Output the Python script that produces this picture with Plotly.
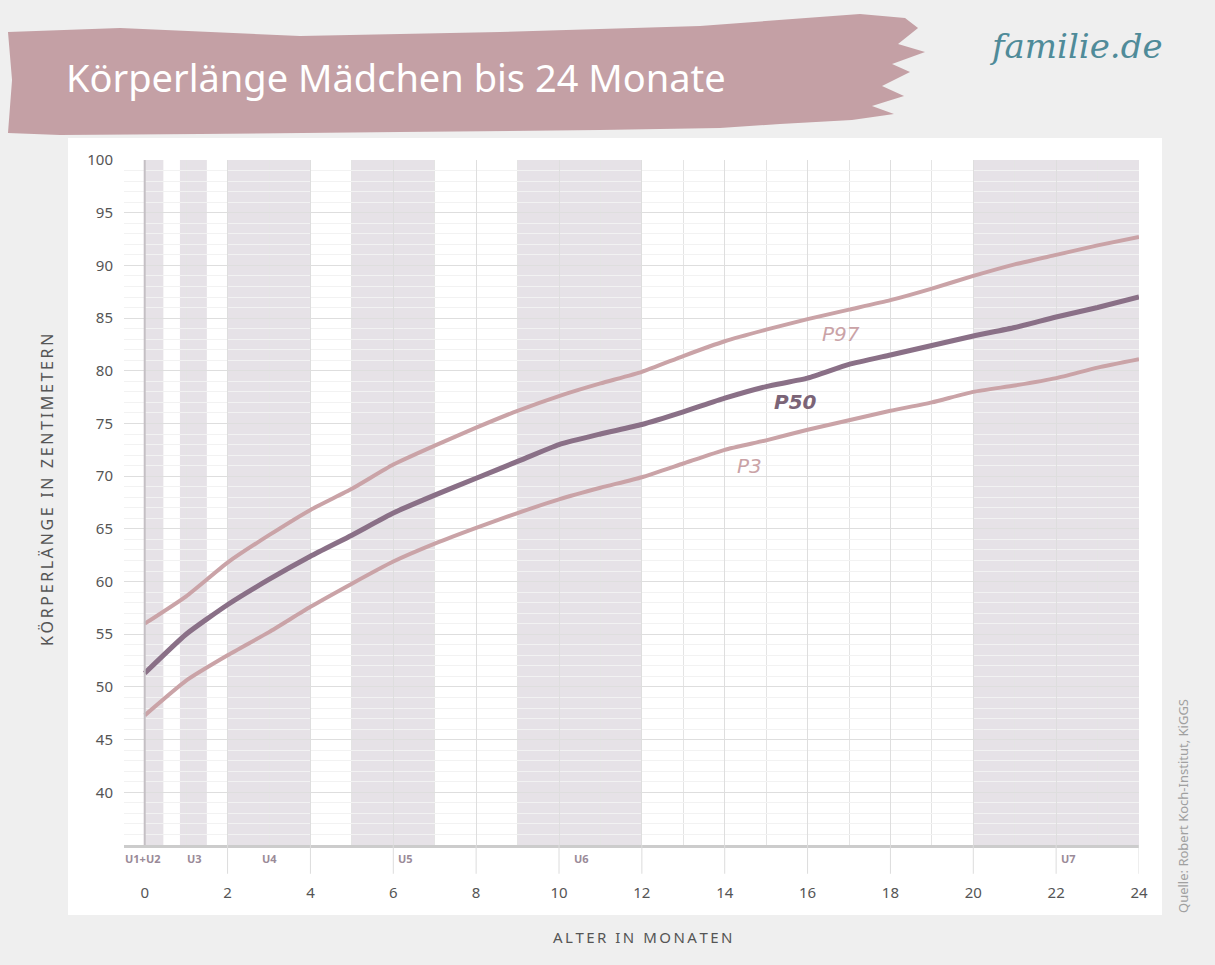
import plotly.graph_objects as go

months = list(range(0, 25))
p97 = [56.0, 58.6, 61.8, 64.4, 66.8, 68.8, 71.1, 72.9, 74.6, 76.2, 77.6, 78.8, 79.9,
       81.4, 82.8, 83.9, 84.9, 85.8, 86.7, 87.8, 89.0, 90.1, 91.0, 91.9, 92.7]
p50 = [51.3, 55.0, 57.8, 60.2, 62.4, 64.4, 66.5, 68.2, 69.8, 71.4, 73.0, 74.0, 74.9,
       76.1, 77.4, 78.5, 79.3, 80.6, 81.5, 82.4, 83.3, 84.1, 85.1, 86.0, 87.0]
p3 = [47.3, 50.6, 53.0, 55.2, 57.6, 59.8, 61.9, 63.6, 65.1, 66.5, 67.8, 68.9, 69.9,
      71.2, 72.5, 73.4, 74.4, 75.3, 76.2, 77.0, 78.0, 78.6, 79.3, 80.3, 81.1]

u_names = ["U1+U2", "U3", "U4", "U5", "U6", "U7"]
u_start = [0, 0.85, 2, 5, 9, 20]
u_end = [0.45, 1.5, 4, 7, 12, 24]
u_label_x = [-0.05, 1.2, 3.0, 6.3, 10.55, 22.3]

x_ticks = list(range(0, 25, 2))
y_ticks = list(range(40, 101, 5))

series_labels = ["P97", "P50", "P3"]
label_x = [16.8, 15.7, 14.6]
label_y = [83.5, 77.0, 71.0]

PINK = "#caa3a7"
MAUVE = "#8a7087"
BAND = "#e6e2e7"

# pixel -> paper helpers (plot area: x 124..1139, y 160..845)
L, R, T, B = 124, 1139, 160, 845
def xp(px):
    return (px - L) / (R - L)
def yp(py):
    return (B - py) / (B - T)

fig = go.Figure()
fig.add_trace(go.Scatter(x=months, y=p97, mode="lines", line=dict(color=PINK, width=4, shape="spline", smoothing=0.5), hoverinfo="skip"))
fig.add_trace(go.Scatter(x=months, y=p3, mode="lines", line=dict(color=PINK, width=4, shape="spline", smoothing=0.5), hoverinfo="skip"))
fig.add_trace(go.Scatter(x=months, y=p50, mode="lines", line=dict(color=MAUVE, width=5, shape="spline", smoothing=0.5), hoverinfo="skip"))

shapes = []
# white panel
shapes.append(dict(type="rect", xref="paper", yref="paper", x0=xp(68), x1=xp(1162), y0=yp(915), y1=yp(138),
                   fillcolor="white", line=dict(width=0), layer="below"))
# banner brush
banner = [(8, 32), (120, 28), (300, 36), (500, 32), (700, 26), (860, 14), (905, 18), (918, 28),
          (898, 44), (925, 52), (892, 64), (910, 72), (882, 86), (904, 96), (872, 106), (894, 114),
          (852, 120), (780, 124), (720, 128), (600, 130), (400, 132), (200, 134), (60, 135), (8, 133), (12, 80)]
path = "M " + " L ".join(f"{xp(a):.4f},{yp(b):.4f}" for a, b in banner) + " Z"
shapes.append(dict(type="path", xref="paper", yref="paper", path=path, fillcolor="#c4a0a5",
                   line=dict(width=0), layer="below"))
# U bands
for s, e in zip(u_start, u_end):
    shapes.append(dict(type="rect", xref="x", yref="y", x0=s, x1=e, y0=35, y1=100,
                       fillcolor=BAND, line=dict(width=0), layer="below"))
# vertical line at 0
shapes.append(dict(type="line", xref="x", yref="y", x0=0, x1=0, y0=35, y1=100,
                   line=dict(color="#c4bfc4", width=2)))
# tick lines below axis
for t in x_ticks[1:]:
    shapes.append(dict(type="line", xref="x", yref="paper", x0=t, x1=t, y0=0, y1=-0.042,
                       line=dict(color="#dcdcdc", width=1)))

annotations = []
annotations.append(dict(text="Körperlänge Mädchen bis 24 Monate", xref="paper", yref="paper",
                        x=xp(64), y=yp(77), xanchor="left", yanchor="middle", showarrow=False,
                        font=dict(family="Noto Sans", size=38, color="white")))
annotations.append(dict(text="familie.de", xref="paper", yref="paper", x=xp(1076), y=yp(46),
                        xanchor="center", yanchor="middle", showarrow=False,
                        font=dict(family="DejaVu Serif", size=34, color="#4f8b99", style="italic")))
for name, ux in zip(u_names, u_label_x):
    annotations.append(dict(text=f"<b>{name}</b>", xref="x", yref="paper", x=ux, y=yp(858),
                            xanchor="center", yanchor="middle", showarrow=False,
                            font=dict(family="Noto Sans", size=11, color="#9a8a98")))
label_colors = [PINK, "#7b6477", PINK]
for name, lx, ly, c in zip(series_labels, label_x, label_y, label_colors):
    annotations.append(dict(text=name, x=lx, y=ly, xref="x", yref="y", showarrow=False,
                            font=dict(family="DejaVu Sans", size=20, color=c, style="italic",
                                      weight="bold" if name == "P50" else "normal")))

def spaced(s):
    return "\u2009".join(s)

annotations.append(dict(text=spaced("KÖRPERLÄNGE IN ZENTIMETERN"), xref="paper", yref="paper",
                        x=xp(47), y=yp(490), textangle=-90, showarrow=False,
                        xanchor="center", yanchor="middle",
                        font=dict(family="Noto Sans", size=16, color="#555555")))
annotations.append(dict(text=spaced("ALTER IN MONATEN"), xref="paper", yref="paper",
                        x=xp(642), y=yp(937), showarrow=False, xanchor="center", yanchor="middle",
                        font=dict(family="Noto Sans", size=15, color="#555555")))
annotations.append(dict(text="Quelle: Robert Koch-Institut, KiGGS", xref="paper", yref="paper",
                        x=xp(1183), y=yp(806), textangle=-90, showarrow=False,
                        xanchor="center", yanchor="middle",
                        font=dict(family="Noto Sans", size=13, color="#a0a0a0")))

fig.update_layout(
    width=1215, height=965,
    margin=dict(l=L, r=1215 - R, t=T, b=965 - B),
    paper_bgcolor="#efefef", plot_bgcolor="white",
    showlegend=False,
    shapes=shapes, annotations=annotations,
    xaxis=dict(range=[-0.5, 24], tickvals=x_ticks, showgrid=True, gridcolor="#dedede", gridwidth=1,
               minor=dict(dtick=1, tick0=0, showgrid=True, gridcolor="#e4e4e4"),
               showline=True, linecolor="#cccccc", linewidth=3, zeroline=False,
               ticks="", ticklabelstandoff=32,
               tickfont=dict(family="Noto Sans", size=15, color="#555555")),
    yaxis=dict(range=[35, 100], tickvals=y_ticks, showgrid=True, gridcolor="#dedede", gridwidth=1,
               minor=dict(dtick=1, showgrid=True, gridcolor="#f2f2f2"),
               zeroline=False, showline=False, ticks="", ticklabelstandoff=10,
               tickfont=dict(family="Noto Sans", size=15, color="#555555")),
)

fig.write_html("out.html", config={"displayModeBar": False},
               post_script="document.body.style.margin='0px';document.body.style.overflow='hidden';")
